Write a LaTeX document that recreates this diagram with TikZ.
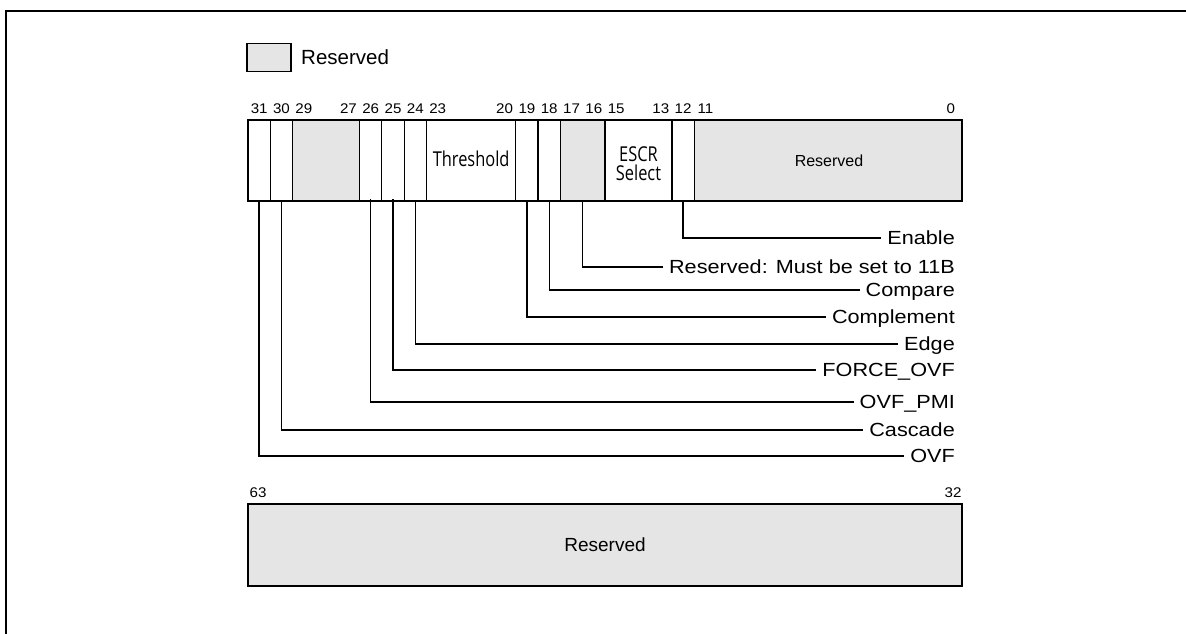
\documentclass[tikz,border=0pt]{standalone}
\usepackage{fontspec}
\setmainfont{Liberation Sans}
\newfontfamily\fieldfont[FakeStretch=0.8]{Open Sans}
\newfontfamily\lblfont[FakeStretch=1.14]{Liberation Sans}
\newfontfamily\numfont[FakeStretch=1.08]{Liberation Sans}
\definecolor{resgray}{HTML}{E5E5E5}
\begin{document}
\begin{tikzpicture}[x=1pt,y=-1pt,
  frame/.style={line width=2pt},
  regborder/.style={line width=2.4pt},
  divider/.style={line width=1.2pt},
  leader/.style={line width=1.4pt},
  resfield/.style={fill=resgray},
  bitnum/.style={font=\numfont\fontsize{14}{16}\selectfont, inner sep=0pt, anchor=base},
  fieldname/.style={font=\fieldfont\fontsize{20.5}{18.5}\selectfont, inner sep=0pt, align=center},
  lbl/.style={font=\lblfont\fontsize{19}{22}\selectfont, anchor=east, inner xsep=6pt, inner ysep=0pt, text height=13.6pt, text depth=0pt},
]
\useasboundingbox (0,0) rectangle (1186,634);
% outer frame
\draw[frame] (6,640) -- (6,11) -- (1192,11);
% legend
\node[draw, fill=resgray, line width=1.2pt, minimum width=44pt, minimum height=28.5pt, inner sep=0pt] (legbox) at (269,57.5) {};
\node[anchor=base west, inner sep=0pt, font=\fontsize{20.5}{24}\selectfont] (legtxt) at (301,65) {Reserved};
% bit width
\def\bw{22.3125}
% reserved fills
\fill[resfield] ({248+2*\bw},120) rectangle ({248+5*\bw},201);
\fill[resfield] ({248+14*\bw},120) rectangle ({248+16*\bw},201);
\fill[resfield] ({248+20*\bw},120) rectangle (962,201);
% dividers
\foreach \k in {1,2,5,6,7,8,12,13,14,16,19,20}{
  \draw[divider] ({248+\k*\bw},120) -- ({248+\k*\bw},201);
}
\draw[regborder] (248,120) rectangle (962,201);
% bit numbers
\foreach \b in {31,30,29,27,26,25,24,23,20,19,18,17,16,15,13,12,11,0}{
  \node[bitnum] (n\b) at ({248+(31.5-\b)*\bw},113) {\b};
}
% field names
\node[fieldname, anchor=base] (thr) at ({248+10*\bw},166) {Threshold};
\node[fieldname, anchor=base] (escr) at ({248+17.5*\bw},161.5) {ESCR};
\node[fieldname, anchor=base] (escr2) at ({248+17.5*\bw},180) {Select};
\node[inner sep=0pt, font=\fontsize{16}{19}\selectfont] (res0) at (829,161) {Reserved};
% leader start coordinates
\coordinate (b31) at ({248+0.5*\bw},201);
\coordinate (b30) at ({248+1.5*\bw},201);
\coordinate (b26) at ({248+5.5*\bw},199);
\coordinate (b25) at ({248+6.5*\bw},199);
\coordinate (b24) at ({248+7.5*\bw},201);
\coordinate (b19) at ({248+12.5*\bw},201);
\coordinate (b18) at ({248+13.5*\bw},201);
\coordinate (b17) at ({248+15*\bw},201);
\coordinate (b12) at ({248+19.5*\bw},201);
% labels
\node[lbl] (lEnable) at (961,238) {Enable};
\node[lbl] (lRes) at (961,267) {Reserved: Must be set to 11B};
\node[lbl] (lCompare) at (961,290) {Compare};
\node[lbl] (lCompl) at (961,317) {Complement};
\node[lbl] (lEdge) at (961,344) {Edge};
\node[lbl] (lForce) at (961,370) {FORCE\_OVF};
\node[lbl] (lPmi) at (961,402) {OVF\_PMI};
\node[lbl] (lCascade) at (961,430) {Cascade};
\node[lbl] (lOvf) at (961,456) {OVF};
% leaders
\draw[leader] (b12) |- (lEnable.west);
\draw[leader] (b17) |- (lRes.west);
\draw[leader] (b18) |- (lCompare.west);
\draw[leader] (b19) |- (lCompl.west);
\draw[leader] (b24) |- (lEdge.west);
\draw[leader] (b25) |- (lForce.west);
\draw[leader] (b26) |- (lPmi.west);
\draw[leader] (b30) |- (lCascade.west);
\draw[leader] (b31) |- (lOvf.west);
% upper half register
\node[bitnum] (n63) at (258,497) {63};
\node[bitnum] (n32) at (953,497) {32};
\draw[regborder, fill=resgray] (248,504) rectangle (962,586);
\node[inner sep=0pt, font=\fontsize{19}{22}\selectfont] (res1) at (605,545) {Reserved};
\end{tikzpicture}
\end{document}
